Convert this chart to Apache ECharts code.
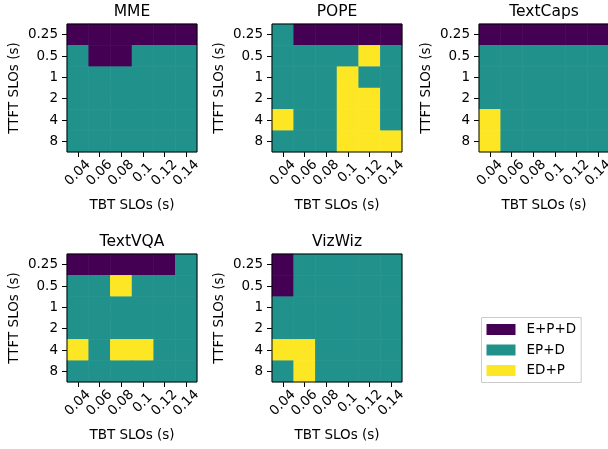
<!DOCTYPE html>
<html>
<head>
<meta charset="utf-8">
<script src="https://cdn.jsdelivr.net/npm/echarts@6/dist/echarts.min.js"></script>
<style>
html, body { margin: 0; padding: 0; background: #fff; }
#chart { width: 608px; height: 449px; }
</style>
</head>
<body>
<div id="chart"></div>
<script>
// TTFT rows (top to bottom) and TBT columns
var ttftLabels = ['0.25', '0.5', '1', '2', '4', '8'];
var tbtLabels = ['0.04', '0.06', '0.08', '0.1', '0.12', '0.14'];

// 0 = E+P+D, 1 = EP+D, 2 = ED+P
var modeNames = ['E+P+D', 'EP+D', 'ED+P'];
var modeColors = ['#440154', '#21918c', '#fde725'];

var datasetNames = ['MME', 'POPE', 'TextCaps', 'TextVQA', 'VizWiz'];

var mme = [
	[0, 0, 0, 0, 0, 0],
	[1, 0, 0, 1, 1, 1],
	[1, 1, 1, 1, 1, 1],
	[1, 1, 1, 1, 1, 1],
	[1, 1, 1, 1, 1, 1],
	[1, 1, 1, 1, 1, 1]
];
var pope = [
	[1, 0, 0, 0, 0, 0],
	[1, 1, 1, 1, 2, 1],
	[1, 1, 1, 2, 1, 1],
	[1, 1, 1, 2, 2, 1],
	[2, 1, 1, 2, 2, 1],
	[1, 1, 1, 2, 2, 2]
];
var textcaps = [
	[0, 0, 0, 0, 0, 0],
	[1, 1, 1, 1, 1, 1],
	[1, 1, 1, 1, 1, 1],
	[1, 1, 1, 1, 1, 1],
	[2, 1, 1, 1, 1, 1],
	[2, 1, 1, 1, 1, 1]
];
var textvqa = [
	[0, 0, 0, 0, 0, 1],
	[1, 1, 2, 1, 1, 1],
	[1, 1, 1, 1, 1, 1],
	[1, 1, 1, 1, 1, 1],
	[2, 1, 2, 2, 1, 1],
	[1, 1, 1, 1, 1, 1]
];
var vizwiz = [
	[0, 1, 1, 1, 1, 1],
	[0, 1, 1, 1, 1, 1],
	[1, 1, 1, 1, 1, 1],
	[1, 1, 1, 1, 1, 1],
	[2, 2, 1, 1, 1, 1],
	[1, 2, 1, 1, 1, 1]
];

var panels = [mme, pope, textcaps, textvqa, vizwiz];

// panel layout (left, top) in px
var panelPos = [[67, 24], [272, 24], [479, 24], [67, 254], [272, 254]];
var panelW = 130, panelH = 128;
var fontFam = 'DejaVu Sans';

var myChart = echarts.init(document.getElementById('chart'));

var grids = [], xAxes = [], yAxes = [], titles = [], series = [];

panels.forEach(function (mat, i) {
	var left = panelPos[i][0], top = panelPos[i][1];

	grids.push({
		left: left, top: top, width: panelW, height: panelH,
		outerBoundsMode: 'none',
		show: true, z: 10,
		backgroundColor: 'transparent',
		borderColor: '#000', borderWidth: 1
	});

	titles.push({
		text: datasetNames[i],
		left: left + panelW / 2,
		textAlign: 'center',
		top: top - 20,
		padding: 0,
		textStyle: { fontFamily: fontFam, fontSize: 15.5, fontWeight: 'normal', color: '#000' }
	});

	xAxes.push({
		type: 'category', gridIndex: i, data: tbtLabels,
		name: 'TBT SLOs (s)', nameLocation: 'middle', nameGap: 46,
		nameTextStyle: { fontFamily: fontFam, fontSize: 13.5, color: '#000' },
		axisLine: { show: false },
		axisTick: { show: true, alignWithLabel: true, length: 5, lineStyle: { color: '#000' } },
		axisLabel: {
			rotate: 45, align: 'center', verticalAlign: 'middle', margin: 21,
			interval: 0, fontFamily: fontFam, fontSize: 13.5, color: '#000'
		},
		splitLine: { show: false }
	});

	yAxes.push({
		type: 'category', gridIndex: i, data: ttftLabels, inverse: true,
		name: 'TTFT SLOs (s)', nameLocation: 'middle', nameGap: 46,
		nameTextStyle: { fontFamily: fontFam, fontSize: 13.5, color: '#000' },
		axisLine: { show: false },
		axisTick: { show: true, alignWithLabel: true, length: 5, lineStyle: { color: '#000' } },
		axisLabel: { margin: 9, interval: 0, fontFamily: fontFam, fontSize: 13.5, color: '#000' },
		splitLine: { show: false }
	});

	// 得到热力图数据
	var cells = [];
	for (var r = 0; r < ttftLabels.length; r++) {
		for (var c = 0; c < tbtLabels.length; c++) {
			cells.push([c, r, mat[r][c]]);
		}
	}

	series.push({
		name: datasetNames[i],
		type: 'heatmap',
		xAxisIndex: i, yAxisIndex: i,
		data: cells,
		itemStyle: { borderWidth: 0 },
		emphasis: { disabled: true }
	});
});

var option = {
	animation: false,
	backgroundColor: '#fff',
	title: titles,
	grid: grids,
	xAxis: xAxes,
	yAxis: yAxes,
	visualMap: {
		type: 'piecewise',
		seriesIndex: [0, 1, 2, 3, 4],
		dimension: 2,
		orient: 'vertical',
		inverse: true,
		align: 'left',
		left: 481, top: 317,
		padding: [5, 5, 5, 5],
		itemWidth: 29, itemHeight: 11, itemGap: 6.5, textGap: 11,
		itemSymbol: 'rect',
		borderColor: '#cccccc', borderWidth: 1,
		backgroundColor: '#fff',
		textStyle: { fontFamily: fontFam, fontSize: 13.5, color: '#000' },
		pieces: modeNames.map(function (n, k) {
			return { value: k, label: n, color: modeColors[k] };
		})
	},
	series: series
};

myChart.setOption(option);
</script>
</body>
</html>
